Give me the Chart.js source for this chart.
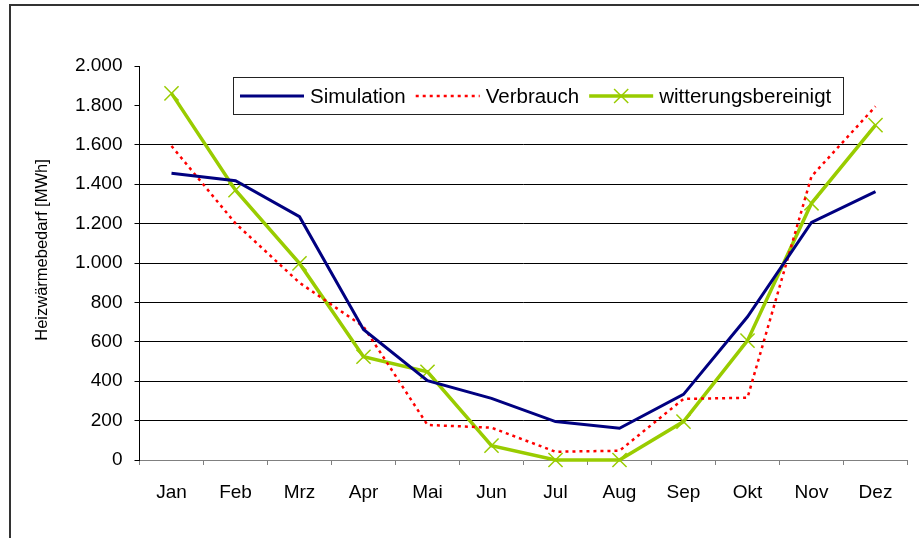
<!DOCTYPE html>
<html>
<head>
<meta charset="utf-8">
<script src="https://cdn.jsdelivr.net/npm/chart.js@4.4.1/dist/chart.umd.min.js"></script>
<style>
  html, body { margin: 0; padding: 0; background: #fff; }
  #wrap { width: 919px; height: 538px; }
</style>
</head>
<body>
<div id="wrap"><canvas id="heatChart" width="919" height="538"></canvas></div>
<script>
// Monate und Werte (MWh)
const months = ['Jan', 'Feb', 'Mrz', 'Apr', 'Mai', 'Jun', 'Jul', 'Aug', 'Sep', 'Okt', 'Nov', 'Dez'];
const simulation = [1455, 1418, 1235, 663, 403, 313, 195, 161, 333, 727, 1206, 1362];
const verbrauch = [1594, 1201, 900, 677, 178, 164, 42, 47, 310, 316, 1440, 1795];
const bereinigt = [1861, 1370, 998, 524, 448, 73, 0, 0, 195, 606, 1303, 1700];
const seriesLabels = ['Simulation', 'Verbrauch', 'witterungsbereinigt'];
const yTicks = [0, 200, 400, 600, 800, 1000, 1200, 1400, 1600, 1800, 2000];
const yTitle = 'Heizwärmebedarf [MWh]';

const FONT = '"Liberation Sans", Arial, sans-serif';

function formatDE(v) {
    if (v >= 1000) {
        return Math.floor(v / 1000) + '.' + String(v % 1000).padStart(3, '0');
    }
    return String(v);
}

// outer frame (only top and left edge are visible in the picture) + y title
const framePlugin = {
    id: 'frame',
    beforeDraw(chart) {
        const ctx = chart.ctx;
        ctx.save();
        ctx.strokeStyle = '#333';
        ctx.lineWidth = 2;
        ctx.beginPath();
        ctx.moveTo(10, 538);
        ctx.lineTo(10, 5);
        ctx.lineTo(919, 5);
        ctx.stroke();

        // axis title sits a bit above the middle of the axis in the original
        ctx.translate(42, 250);
        ctx.rotate(-Math.PI / 2);
        ctx.font = '16.5px ' + FONT;
        ctx.fillStyle = '#000';
        ctx.textAlign = 'center';
        ctx.textBaseline = 'middle';
        ctx.fillText(yTitle, 0, 0);
        ctx.restore();
    }
};

// legend box drawn by hand so the line styles show like in the original
const legendPlugin = {
    id: 'boxLegend',
    afterDraw(chart) {
        const ctx = chart.ctx;
        const box = { left: 233.5, top: 77.5, right: 843.5, bottom: 114.5 };
        const midY = (box.top + box.bottom) / 2;
        ctx.save();
        ctx.fillStyle = '#fff';
        ctx.fillRect(box.left, box.top, box.right - box.left, box.bottom - box.top);
        ctx.strokeStyle = '#222';
        ctx.lineWidth = 1;
        ctx.strokeRect(box.left, box.top, box.right - box.left, box.bottom - box.top);

        ctx.font = '20.5px ' + FONT;
        ctx.textBaseline = 'middle';
        let x = 240;
        chart.data.datasets.forEach((ds) => {
            const lineLen = 64;
            ctx.save();
            ctx.strokeStyle = ds.borderColor;
            ctx.lineWidth = ds.borderWidth;
            ctx.setLineDash(ds.borderDash || []);
            ctx.beginPath();
            ctx.moveTo(x, midY);
            ctx.lineTo(x + lineLen, midY);
            ctx.stroke();
            if (ds.pointRadius > 0) {
                const h = ds.pointRadius * Math.SQRT1_2;
                const cx = x + lineLen / 2;
                ctx.setLineDash([]);
                ctx.lineWidth = ds.pointBorderWidth;
                ctx.beginPath();
                ctx.moveTo(cx - h, midY - h);
                ctx.lineTo(cx + h, midY + h);
                ctx.moveTo(cx - h, midY + h);
                ctx.lineTo(cx + h, midY - h);
                ctx.stroke();
            }
            ctx.restore();
            x += lineLen + 6;
            ctx.fillStyle = '#000';
            ctx.fillText(ds.label, x, midY + 1);
            x += ctx.measureText(ds.label).width + 10;
        });
        ctx.restore();
    }
};

const ctx = document.getElementById('heatChart').getContext('2d');
const heatChart = new Chart(ctx, {
    type: 'line',
    data: {
        labels: months,
        datasets: [
            {
                label: seriesLabels[0],
                data: simulation,
                borderColor: '#000080',
                backgroundColor: '#000080',
                borderWidth: 3,
                pointRadius: 0,
                tension: 0
            },
            {
                label: seriesLabels[1],
                data: verbrauch,
                borderColor: '#ff0000',
                backgroundColor: '#ff0000',
                borderWidth: 2.5,
                borderDash: [3, 4],
                pointRadius: 0,
                tension: 0
            },
            {
                label: seriesLabels[2],
                data: bereinigt,
                borderColor: '#99cc00',
                backgroundColor: '#99cc00',
                borderWidth: 3.5,
                pointStyle: 'crossRot',
                pointRadius: 10,
                pointBorderWidth: 1.5,
                pointBorderColor: '#99cc00',
                tension: 0,
                clip: false
            }
        ]
    },
    options: {
        responsive: false,
        animation: false,
        events: [],
        layout: {
            padding: { left: 30, right: 10.5, top: 66, bottom: 0 }
        },
        plugins: {
            legend: { display: false },
            tooltip: { enabled: false }
        },
        scales: {
            x: {
                offset: true,
                grid: {
                    offset: true,
                    drawOnChartArea: false,
                    drawTicks: true,
                    tickLength: 5,
                    tickColor: '#808080'
                },
                border: { color: '#808080', width: 1 },
                ticks: {
                    color: '#000',
                    font: { family: FONT, size: 19 },
                    padding: 16,
                    maxRotation: 0
                },
                afterFit(scale) { scale.height = 78; }
            },
            y: {
                min: 0,
                max: 2000,
                afterBuildTicks(scale) {
                    scale.ticks = yTicks.map(v => ({ value: v }));
                },
                grid: {
                    color: (c) => (c.tick && c.tick.value >= 200 && c.tick.value <= 1600) ? '#000' : 'rgba(0,0,0,0)',
                    tickColor: '#000',
                    tickLength: 5,
                    lineWidth: 1
                },
                border: { color: '#000', width: 1 },
                ticks: {
                    color: '#000',
                    font: { family: FONT, size: 19 },
                    padding: 12,
                    callback: (v) => formatDE(v)
                },
                title: { display: false },
                afterFit(scale) { scale.width = 109.5; }
            }
        }
    },
    plugins: [framePlugin, legendPlugin]
});
</script>
</body>
</html>
